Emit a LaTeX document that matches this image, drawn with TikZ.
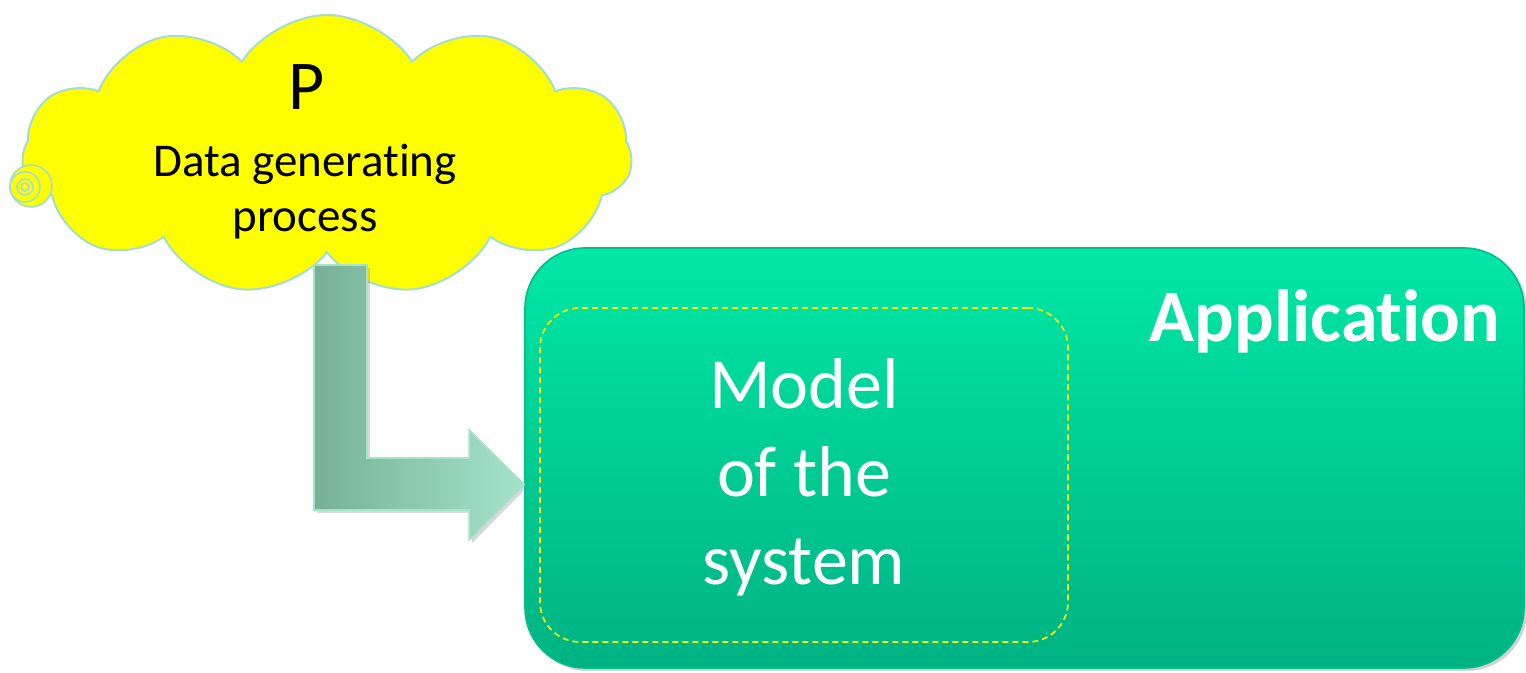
\documentclass[tikz,border=0pt]{standalone}
\usepackage{fontspec}
\setmainfont{Carlito}[Ligatures=NoCommon]
\usepackage{tikz}
\usetikzlibrary{shapes, shapes.symbols, arrows.meta, positioning, calc, shadows}

\definecolor{cloudyellow}{HTML}{FFFF00}
\definecolor{cloudedge}{HTML}{A6DCCF}
\definecolor{apptop}{HTML}{00E8A6}
\definecolor{appbottom}{HTML}{00B282}
\definecolor{appedge}{HTML}{00BE8E}
\definecolor{arrowleft}{HTML}{76B197}
\definecolor{arrowright}{HTML}{A4E4CA}
\definecolor{arrowedge}{HTML}{A8E2C9}

\tikzset{
  procbox/.style={draw=cloudedge, line width=1pt, fill=cloudyellow,
    cloud, cloud puffs=11, cloud puff arc=115, aspect=2.2, inner sep=0pt},
  appbox/.style={draw=appedge, line width=0.8pt, rounded corners=30pt,
    top color=apptop, bottom color=appbottom,
    drop shadow={opacity=0.35, shadow xshift=1.5pt, shadow yshift=-1.5pt}},
  modelbox/.style={draw=cloudyellow, line width=0.8pt, dash pattern=on 3pt off 2pt,
    rounded corners=20pt},
  bigarrow/.style={draw=arrowedge, line width=0.8pt,
    left color=arrowleft, right color=arrowright,
    drop shadow={opacity=0.3, shadow xshift=1.5pt, shadow yshift=-1.5pt}}
}

\begin{document}
\begin{tikzpicture}[x=1pt, y=1pt]
\useasboundingbox (0,0) rectangle (763,336.5);

% Application block
\node[appbox,
    minimum width=499.5pt,
    minimum height=210pt] (app) at (512.25,107.5) {};

\node[modelbox,
    minimum width=264pt,
    minimum height=167pt] (model) at (402,99) {};

\node[text=white, align=center,
    font=\fontsize{36}{44}\selectfont] (modeltext) at ([yshift=-1pt]model.center) {Model\\of the\\system};

\node[text=white, font=\fontsize{37}{44}\selectfont\bfseries] (apptext) at (662.5,176) {Application};

% Data generating process
\node[procbox,
    minimum width=305pt,
    minimum height=140pt] (proc) at (163.5,259) {};

\draw[cloudedge, line width=0.8pt, fill=cloudyellow] (15.5,243.5) circle (10.5pt);
\draw[cloudedge, line width=0.8pt] (12.5,243) circle (7.5pt) (12.5,243) circle (4pt) (12.5,243) circle (2pt);

\node[anchor=base, font=\fontsize{35}{42}\selectfont] (ptext) at (153.5,281.5) {P};
\node[anchor=base, font=\fontsize{23.5}{29}\selectfont] (proctext1) at (152.5,248) {Data generating};
\node[below=0pt of proctext1.base, anchor=base, yshift=-27.5pt,
    font=\fontsize{23.5}{29}\selectfont] (proctext2) {process};

% Arrow
\coordinate (src) at ([xshift=6.75pt, yshift=-55pt]proc.center);
\coordinate (tip) at ([yshift=-13.25pt]app.west);

\path[bigarrow] let \p1=(src), \p2=(tip) in
  (\x1-13.25pt,\y1) -- (\x1+13.25pt,\y1) -- (\x1+13.25pt,\y2+13.25pt)
  -- (\x2-27.5pt,\y2+13.25pt) -- (\x2-27.5pt,\y2+27.25pt) -- (tip)
  -- (\x2-27.5pt,\y2-27.75pt) -- (\x2-27.5pt,\y2-12.75pt)
  -- (\x1-13.25pt,\y2-12.75pt) -- cycle;

\end{tikzpicture}
\end{document}
